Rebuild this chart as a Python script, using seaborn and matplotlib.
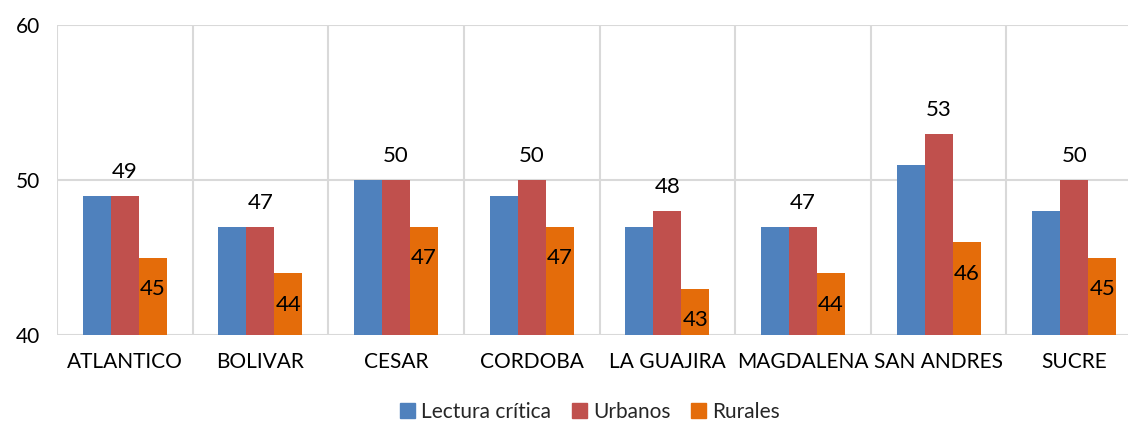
import pandas as pd
import seaborn as sns
import matplotlib.pyplot as plt
import numpy as np

departamentos = ["ATLANTICO", "BOLIVAR", "CESAR", "CORDOBA", "LA GUAJIRA",
                 "MAGDALENA", "SAN ANDRES", "SUCRE"]
lectura = [49, 47, 50, 49, 47, 47, 51, 48]
urbanos = [49, 47, 50, 50, 48, 47, 53, 50]
rurales = [45, 44, 47, 47, 43, 44, 46, 45]
series = ["Lectura crítica", "Urbanos", "Rurales"]
colores = ["#4F81BD", "#C0504D", "#E46C0A"]

df = pd.DataFrame({
    "depto": departamentos * 3,
    "serie": [series[0]] * 8 + [series[1]] * 8 + [series[2]] * 8,
    "valor": lectura + urbanos + rurales,
})

sns.set_theme(style="white")
plt.rcParams['font.family'] = ['Lato', 'DejaVu Sans']

fig = plt.figure(figsize=(11.28, 4.26), dpi=100)
ax = fig.add_axes([57 / 1128, 1 - 335 / 426, 1085 / 1128, 310 / 426])

sns.barplot(data=df, x="depto", y="valor", hue="serie", palette=colores,
            width=0.62, ax=ax, saturation=1, legend=False, linewidth=0)

ax.set_ylim(40, 60)
ax.set_xlim(-0.5, 7.5)
ax.set_yticks([40, 50, 60])
ax.set_xticks(np.arange(-0.5, 8, 1), minor=True)
ax.grid(axis="y", color="#D9D9D9", linewidth=1.5)
ax.grid(axis="x", which="minor", color="#D9D9D9", linewidth=1.5)
ax.set_axisbelow(True)
for sp in ax.spines.values():
    sp.set_visible(False)
ax.tick_params(axis="both", which="both", length=0, labelsize=15, colors="black")
ax.tick_params(axis="x", pad=12)
ax.tick_params(axis="y", pad=12)
ax.set_xlabel("")
ax.set_ylabel("")

ax.bar_label(ax.containers[1], padding=10, fontsize=16, color="black")
ax.bar_label(ax.containers[2], padding=-30, fontsize=16, color="black")

handles = [plt.Rectangle((0, 0), 1, 1, color=c) for c in colores]
fig.legend(handles, series, loc="center", bbox_to_anchor=(590 / 1128, 0.033),
           ncol=3, frameon=False, fontsize=15, handlelength=0.7,
           handleheight=0.7, handletextpad=0.3, columnspacing=1.0)

fig.savefig("out.png", dpi=100)
